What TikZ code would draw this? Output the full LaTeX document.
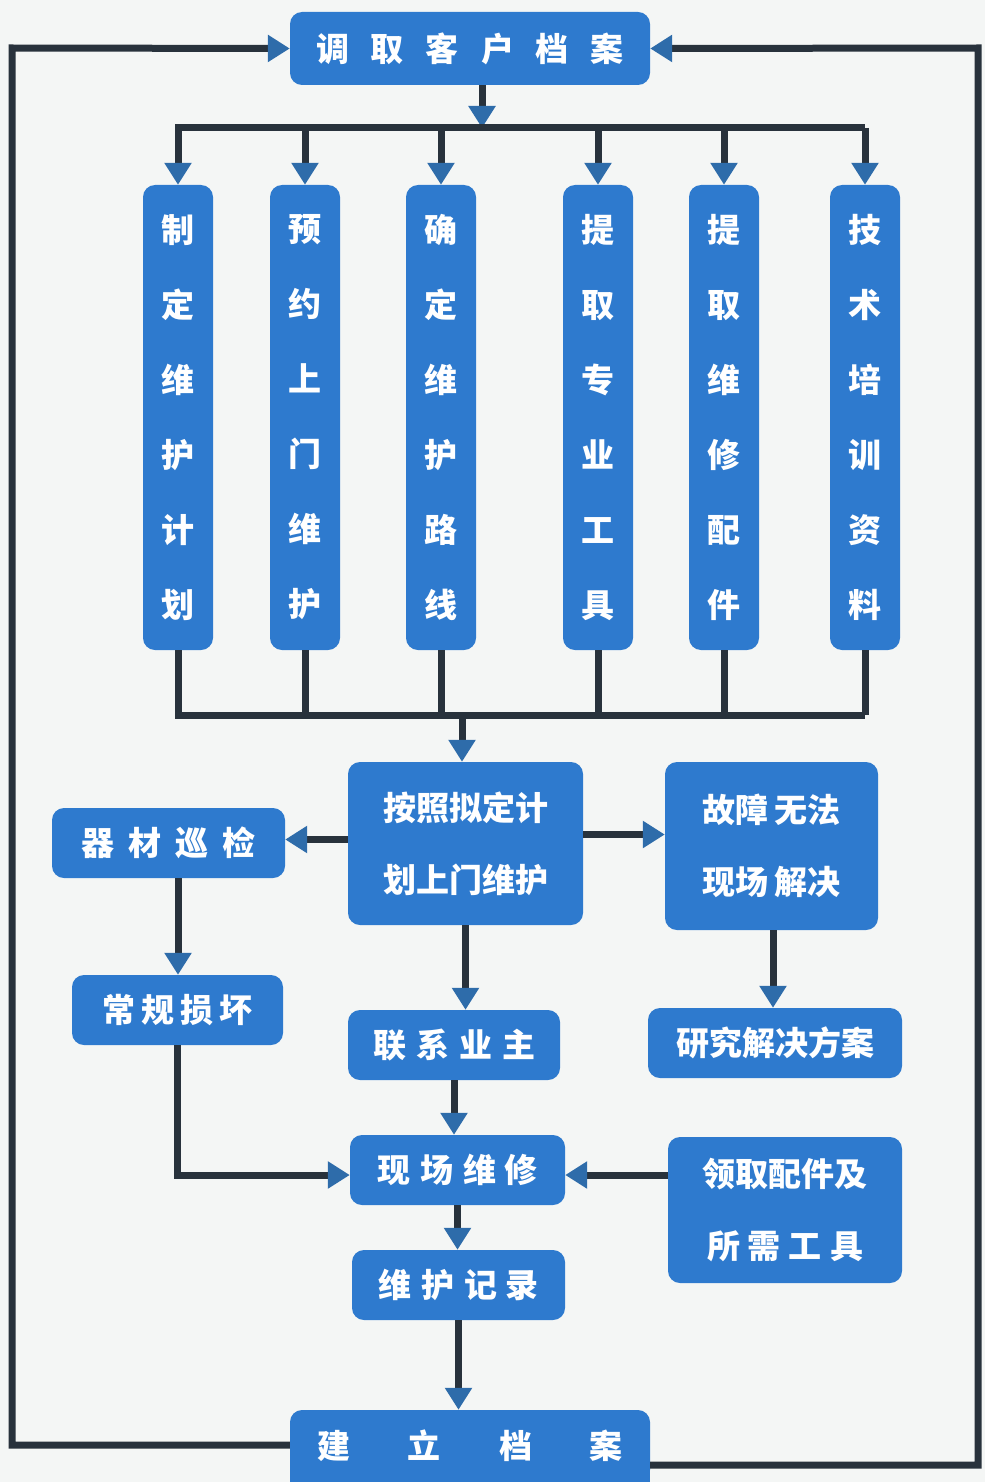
\documentclass[tikz,border=0pt]{standalone}
\usepackage{fontspec}
\newfontfamily\cjk{Noto Sans CJK SC}
\usetikzlibrary{arrows.meta}
\definecolor{boxblue}{RGB}{46,122,206}
\definecolor{linedark}{RGB}{40,50,60}
\definecolor{tipblue}{RGB}{46,108,170}
\definecolor{bg}{RGB}{244,246,245}
\tikzset{
  box/.style={fill=boxblue,rounded corners=12pt,text=white,inner sep=0pt,
    align=center,font=\cjk\bfseries\fontsize{33}{37}\selectfont},
  vbox/.style={box,minimum width=70pt,minimum height=465pt,
    font=\cjk\bfseries\fontsize{33}{75}\selectfont},
  tbox/.style={box,font=\cjk\bfseries\fontsize{33}{72}\selectfont},
  conn/.style={draw=linedark,line width=7pt,-{Triangle[length=22pt,width=26pt,fill=tipblue,color=tipblue]}},
  plain/.style={draw=linedark,line width=7pt},
}
\begin{document}
\begin{tikzpicture}[x=1pt,y=-1pt]
\fill[bg] (0,0) rectangle (985,1482);
\useasboundingbox (0,0) rectangle (985,1482);
% top
\node[box,minimum width=360pt,minimum height=73pt] (top) at (470,48.5)
  {调\hspace{22pt}取\hspace{22pt}客\hspace{22pt}户\hspace{22pt}档\hspace{22pt}案};
% six vertical boxes
\node[vbox] (v1) at (178,417.5) {制\\定\\维\\护\\计\\划};
\node[vbox] (v2) at (305,417.5) {预\\约\\上\\门\\维\\护};
\node[vbox] (v3) at (441,417.5) {确\\定\\维\\护\\路\\线};
\node[vbox] (v4) at (598,417.5) {提\\取\\专\\业\\工\\具};
\node[vbox] (v5) at (724,417.5) {提\\取\\维\\修\\配\\件};
\node[vbox] (v6) at (865,417.5) {技\\术\\培\\训\\资\\料};
% middle row
\node[tbox,minimum width=235pt,minimum height=163pt] (plan) at (465.5,843.5) {按照拟定计\\划上门维护};
\node[box,minimum width=233pt,minimum height=70pt] (xj) at (168.5,843) {器\hspace{14pt}材\hspace{14pt}巡\hspace{14pt}检};
\node[tbox,minimum width=213pt,minimum height=168pt] (gz) at (771.5,846) {故障\hspace{6pt}无法\\现场\hspace{6pt}解决};
\node[box,minimum width=211pt,minimum height=70pt] (cg) at (177.5,1010) {常\hspace{6pt}规\hspace{6pt}损\hspace{6pt}坏};
\node[box,minimum width=212pt,minimum height=70pt] (lx) at (454,1045) {联\hspace{10pt}系\hspace{10pt}业\hspace{10pt}主};
\node[box,minimum width=254pt,minimum height=70pt] (yj) at (775,1043) {研究解决方案};
\node[box,minimum width=215pt,minimum height=70pt] (xc) at (457.5,1170) {现\hspace{10pt}场\hspace{10pt}维\hspace{8pt}修};
\node[tbox,minimum width=234pt,minimum height=146pt] (lq) at (785,1210) {领取配件及\\所\hspace{8pt}需\hspace{8pt}工\hspace{8pt}具};
\node[box,minimum width=213pt,minimum height=70pt] (wh) at (458.5,1285) {维\hspace{10pt}护\hspace{10pt}记\hspace{8pt}录};
\fill[boxblue] (290,1440) rectangle (650,1482);
\node[box,minimum width=360pt,minimum height=72pt] (jl) at (470,1446) {建\hspace{58pt}立\hspace{58pt}档\hspace{58pt}案};
% bars
\coordinate (barT) at (482,128);
\coordinate (barTL) at (175,128);
\coordinate (barTR) at (865,128);
\coordinate (barB) at (462,715);
\coordinate (barBL) at (175,715);
\coordinate (barBR) at (865,715);
\draw[conn] (top.south -| barT) -- (barT);
\draw[plain] (barTL) -- (barTR);
\draw[plain] (barBL) -- (barBR);
\foreach \n in {v1,v2,v3,v4,v5,v6}{
  \draw[conn] (\n.north |- barT) -- (\n.north);
  \draw[plain] (\n.south) -- (\n.south |- barB);
}
\draw[conn] (barB) -- (plan.north -| barB);
\coordinate (planW) at ([yshift=4pt]plan.west);
\coordinate (planE) at ([yshift=9pt]plan.east);
\draw[conn] (planW) -- (planW -| xj.east);
\draw[conn] (planE) -- (planE -| gz.west);
\draw[conn] ([xshift=9.5pt]xj.south) -- ([xshift=9.5pt]xj.south |- cg.north);
\draw[conn] (plan.south) -- (plan.south |- lx.north);
\draw[conn] ([xshift=1.5pt]gz.south) -- ([xshift=1.5pt]gz.south |- yj.north);
\draw[conn] (lx.south) -- (lx.south |- xc.north);
\coordinate (xcW) at ([yshift=-5pt]xc.west);
\coordinate (xcE) at ([yshift=-5pt]xc.east);
\draw[conn] (cg.south) |- (xcW);
\draw[conn] (lq.west |- xcE) -- (xcE);
\draw[conn] (xc.south) -- (xc.south |- wh.north);
\draw[conn] (wh.south) -- (wh.south |- jl.north);
% loops
\coordinate (cL1) at (12,1445);
\coordinate (cL2) at (12,48);
\coordinate (cR1) at (978,1465);
\coordinate (cR2) at (978,48);
\draw[conn] (jl.west |- cL1) -- (cL1) -- (cL2) -- (top.west);
\draw[conn] (jl.east |- cR1) -- (cR1) -- (cR2) -- (top.east);
\end{tikzpicture}
\end{document}
